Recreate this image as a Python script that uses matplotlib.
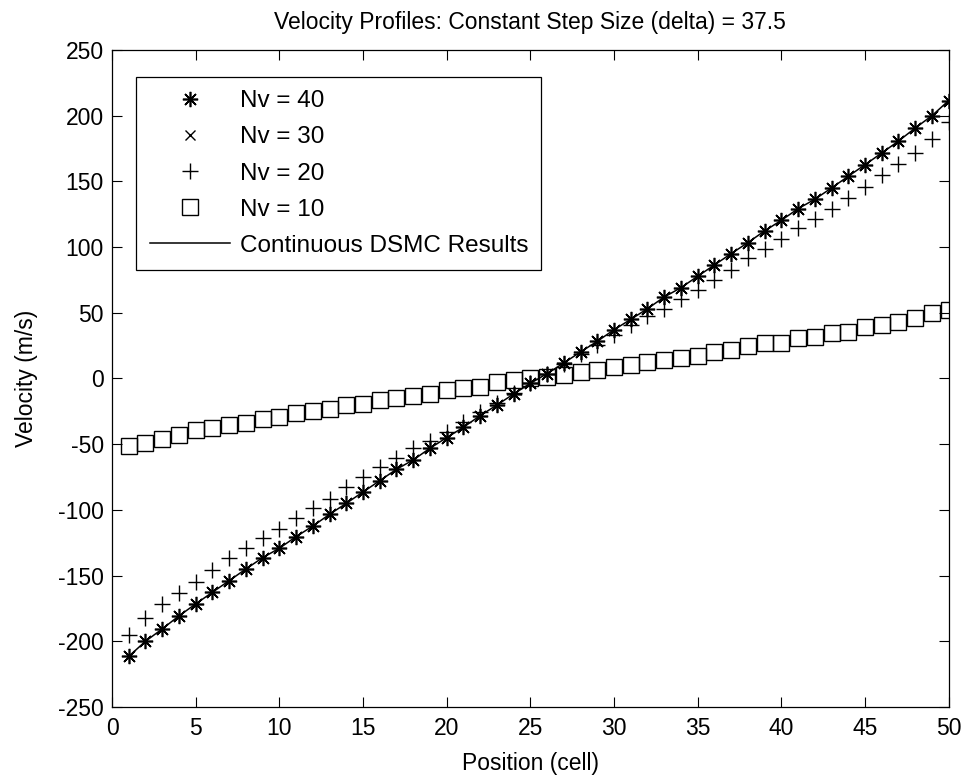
import matplotlib
matplotlib.use("Agg")
import matplotlib.pyplot as plt

plt.rcParams['font.family'] = ['Liberation Sans', 'DejaVu Sans']
plt.rcParams['axes.unicode_minus'] = False

cells = list(range(1, 51))

# left half, right half mirrors it (profile is antisymmetric)
nv40_left = [-211.5, -200.0, -190.6, -180.7, -171.6, -162.7, -153.9, -145.0, -136.4, -129.2,
             -120.4, -112.3, -103.4, -95.0, -86.4, -77.8, -69.1, -62.0, -53.1, -45.0,
             -37.1, -28.3, -20.2, -11.8, -3.7]
nv40 = nv40_left + [-v for v in reversed(nv40_left)]
nv30 = nv40_left + [-v for v in reversed(nv40_left)]
dsmc = nv40_left + [-v for v in reversed(nv40_left)]

nv20_left = [-195.2, -182.0, -171.6, -163.5, -155.0, -145.7, -137.0, -129.0, -121.6, -114.5,
             -106.4, -98.8, -91.5, -82.5, -74.7, -67.6, -60.7, -52.7, -47.6, -40.5,
             -32.9, -25.3, -18.9, -11.3, -3.5]
nv20 = nv20_left + [-v for v in reversed(nv20_left)]

nv10 = [-51.5, -49.0, -46.0, -43.0, -39.0, -37.8, -35.2, -33.7, -31.0, -29.1,
        -26.2, -25.1, -23.4, -20.3, -19.6, -16.2, -14.5, -13.5, -11.9, -8.6,
        -7.4, -6.1, -2.5, -1.3, 0.0, 1.3, 2.8, 5.3, 6.6, 8.9,
        10.1, 12.9, 14.2, 15.4, 17.1, 20.4, 21.7, 24.7, 26.7, 27.2,
        30.5, 31.7, 34.8, 35.5, 38.9, 40.4, 42.7, 46.2, 49.5, 52.0]

fig = plt.figure(figsize=(9.69, 7.78), dpi=100)
ax = fig.add_axes([0.1156, 0.0913, 0.8634, 0.8444])

ax.plot(cells, nv40, linestyle='none', marker=(8, 2, 0), markersize=11,
        markeredgewidth=1.2, color='black', label='Nv = 40')
ax.plot(cells, nv30, linestyle='none', marker='x', markersize=7,
        markeredgewidth=1.0, color='black', label='Nv = 30')
ax.plot(cells, nv20, linestyle='none', marker='+', markersize=12,
        markeredgewidth=1.0, color='black', label='Nv = 20')
ax.plot(cells, nv10, linestyle='none', marker='s', markersize=11,
        markeredgewidth=1.0, markerfacecolor='none', color='black', label='Nv = 10')
ax.plot(cells, dsmc, linestyle='-', linewidth=1.1, color='black',
        label='Continuous DSMC Results')

ax.set_xlim(0, 50)
ax.set_ylim(-250, 250)
ax.set_xticks(range(0, 51, 5))
ax.set_yticks(range(-250, 251, 50))
ax.tick_params(direction='in', top=True, right=True, length=7, width=0.8,
               labelsize=16.5, colors='black')
ax.tick_params(axis='x', pad=7)
ax.tick_params(axis='y', pad=6)
for s in ax.spines.values():
    s.set_linewidth(0.9)

ax.set_title('Velocity Profiles: Constant Step Size (delta) = 37.5', fontsize=16.5, pad=15)
ax.set_xlabel('Position (cell)', fontsize=16.5, labelpad=9)
ax.set_ylabel('Velocity (m/s)', fontsize=16.5, labelpad=14)

leg = ax.legend(loc='upper left', bbox_to_anchor=(0.029, 0.959), borderaxespad=0,
                fontsize=17.5, numpoints=1, handlelength=3.3, handletextpad=0.4,
                labelspacing=0.58, borderpad=0.55, fancybox=False, framealpha=1,
                edgecolor='black')
leg.get_frame().set_linewidth(0.9)

fig.savefig('out.png', dpi=100)
